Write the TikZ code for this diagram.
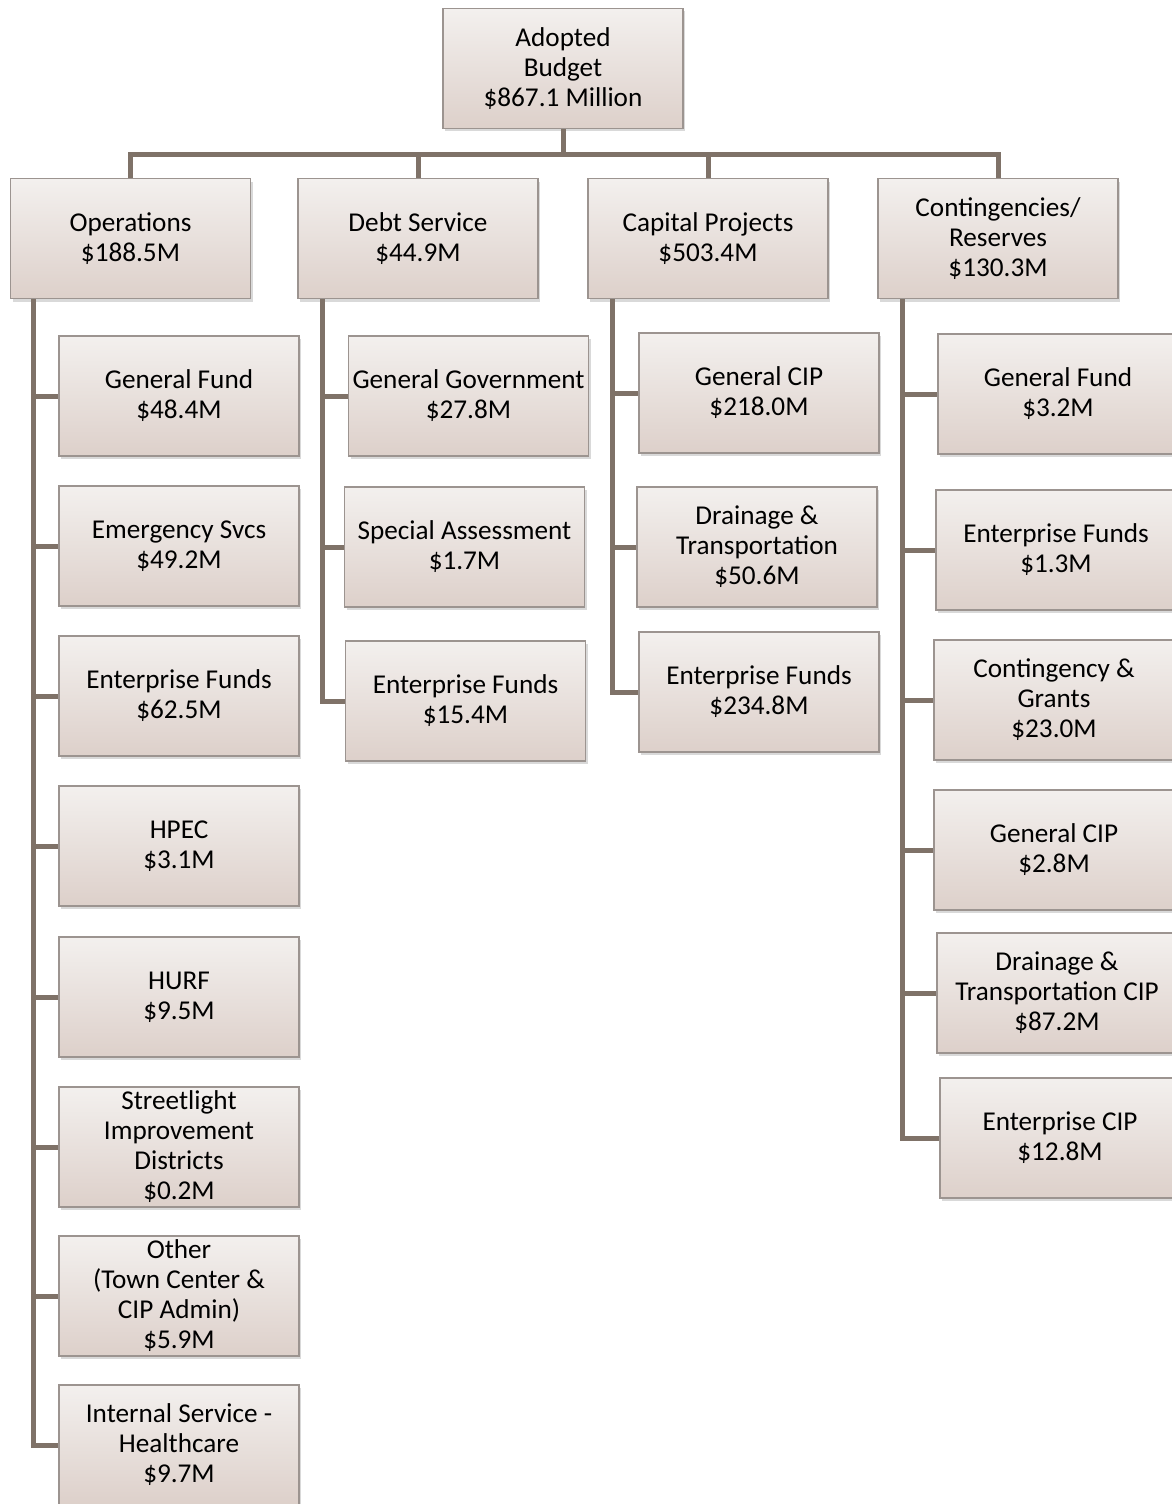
\documentclass[tikz,border=0pt]{standalone}
\usepackage{fontspec}
\setmainfont{Carlito}
\usetikzlibrary{shadows,positioning}
\definecolor{boxtop}{HTML}{F3F0EE}
\definecolor{boxbot}{HTML}{DDD0CA}
\definecolor{boxline}{HTML}{9C9490}
\definecolor{linkbrown}{HTML}{7F7268}
\tikzset{
  budgetbox/.style={draw=boxline, line width=0.6pt, top color=boxtop, bottom color=boxbot,
    minimum width=120pt, minimum height=60pt, inner sep=1pt, align=center,
    font=\fontsize{13.6}{15}\selectfont,
    drop shadow={opacity=0.3, shadow xshift=1.2pt, shadow yshift=-1.5pt}},
  link/.style={draw=linkbrown, line width=2.5pt}
}
\begin{document}
\begin{tikzpicture}[x=0.5pt,y=-0.5pt]
  \useasboundingbox (0,0) rectangle (1172,1504);
  \def\bus{25}

  \node[budgetbox] (top) at (563,68.5) {Adopted\\Budget\\\$867.1 Million};

  \node[budgetbox] (ops)  at (130.5,238.5) {Operations\\\$188.5M};
  \node[budgetbox] (debt) at (418,238.5) {Debt Service\\\$44.9M};
  \node[budgetbox] (cap)  at (708,238.5) {Capital Projects\\\$503.4M};
  \node[budgetbox] (cont) at (998,238.5) {Contingencies/\\Reserves\\\$130.3M};

  % operations
  \node[budgetbox] (opsgf)  at (179,396)  {General Fund\\\$48.4M};
  \node[budgetbox] (opses)  at (179,546)  {Emergency Svcs\\\$49.2M};
  \node[budgetbox] (opsef)  at (179,696)  {Enterprise Funds\\\$62.5M};
  \node[budgetbox] (opshp)  at (179,846)  {HPEC\\\$3.1M};
  \node[budgetbox] (opshu)  at (179,997)  {HURF\\\$9.5M};
  \node[budgetbox] (opssl)  at (179,1147) {Streetlight\\Improvement\\Districts\\\$0.2M};
  \node[budgetbox] (opsot)  at (179,1296) {Other\\(Town Center \&\\CIP Admin)\\\$5.9M};
  \node[budgetbox] (opsis)  at (179,1445) {Internal Service -\\Healthcare\\\$9.7M};

  % debt service
  \node[budgetbox] (debtgg) at (468.5,396) {General Government\\\$27.8M};
  \node[budgetbox] (debtsa) at (464.5,547) {Special Assessment\\\$1.7M};
  \node[budgetbox] (debtef) at (465.5,701) {Enterprise Funds\\\$15.4M};

  % capital projects
  \node[budgetbox] (capgc) at (759,393) {General CIP\\\$218.0M};
  \node[budgetbox] (capdt) at (757,547) {Drainage \&\\Transportation\\\$50.6M};
  \node[budgetbox] (capef) at (759,692) {Enterprise Funds\\\$234.8M};

  % contingencies
  \node[budgetbox] (contgf) at (1058,394)  {General Fund\\\$3.2M};
  \node[budgetbox] (contef) at (1056,550)  {Enterprise Funds\\\$1.3M};
  \node[budgetbox] (contcg) at (1054,700)  {Contingency \&\\Grants\\\$23.0M};
  \node[budgetbox] (contgc) at (1054,850)  {General CIP\\\$2.8M};
  \node[budgetbox] (contdt) at (1057,993)  {Drainage \&\\Transportation CIP\\\$87.2M};
  \node[budgetbox] (contec) at (1060,1138) {Enterprise CIP\\\$12.8M};

  \foreach \n in {ops,debt,cap,cont}
    \draw[link] (top.south) -- ++(0,\bus) -| (\n.north);

  \foreach \c in {opsgf,opses,opsef,opshp,opshu,opssl,opsot,opsis}
    \draw[link] ([xshift=12pt]ops.south west) |- (\c.west);
  \foreach \c in {debtgg,debtsa,debtef}
    \draw[link] ([xshift=12.5pt]debt.south west) |- (\c.west);
  \foreach \c in {capgc,capdt,capef}
    \draw[link] ([xshift=12.5pt]cap.south west) |- (\c.west);
  \foreach \c in {contgf,contef,contcg,contgc,contdt,contec}
    \draw[link] ([xshift=12.5pt]cont.south west) |- (\c.west);
\end{tikzpicture}
\end{document}
